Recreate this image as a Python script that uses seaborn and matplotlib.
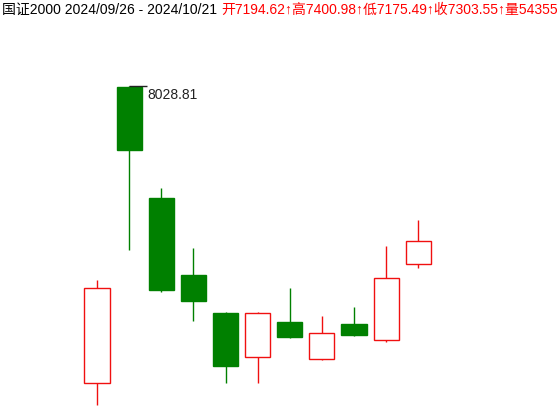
import numpy as np
import pandas as pd
import seaborn as sns
import matplotlib
matplotlib.use("Agg")
import matplotlib.pyplot as plt

# --- DATA ---
dates = ["09/30", "10/08", "10/09", "10/10", "10/11", "10/14",
         "10/15", "10/16", "10/17", "10/18", "10/21"]
opens = [6638.8, 8026.0, 7504.6, 7144.3, 6966.4, 6760.5,
         6924.3, 6751.2, 6914.9, 6840.1, 7194.62]
highs = [7120.9, 8028.81, 7551.4, 7270.6, 6970.0, 6970.0,
         7083.4, 6952.4, 6994.5, 7280.0, 7400.98]
lows = [6535.9, 7261.3, 7064.7, 6929.0, 6638.8, 6638.8,
        6849.4, 6746.5, 6858.8, 6830.7, 7175.49]
closes = [7083.4, 7729.3, 7074.1, 7022.6, 6718.4, 6966.4,
          6854.1, 6872.8, 6863.5, 7130.2, 7303.55]

title_black = "国证2000 2024/09/26 - 2024/10/21"
title_red = "开7194.62↑高7400.98↑低7175.49↑收7303.55↑量54355万"

UP = "#f01010"
DOWN = "#008000"


def main():
    df = pd.DataFrame({"date": dates, "open": opens, "high": highs,
                       "low": lows, "close": closes})
    df["x"] = np.arange(len(df))
    df["up"] = df["close"] >= df["open"]

    sns.set_theme(style="white")
    plt.rcParams["font.family"] = ["Liberation Sans", "Noto Sans CJK SC", "DejaVu Sans"]

    fig = plt.figure(figsize=(5.58, 4.09), dpi=100)
    ax = fig.add_axes([0, 0, 1, 1])
    ax.set_axis_off()

    width = 0.78
    for _, r in df.iterrows():
        col = UP if r["up"] else DOWN
        top = max(r["open"], r["close"])
        bot = min(r["open"], r["close"])
        ax.vlines(r["x"], top, r["high"], color=col, lw=1.0)
        ax.vlines(r["x"], r["low"], bot, color=col, lw=1.0)
        ax.bar(r["x"], top - bot, bottom=bot, width=width,
               facecolor="white" if r["up"] else DOWN,
               edgecolor=col, linewidth=1.0)

    # marker for the period high
    imax = df["high"].idxmax()
    hx, hy = df.loc[imax, "x"], df.loc[imax, "high"]
    ax.hlines(hy, hx, hx + 0.55, color="#222222", lw=1.0)
    ax.text(hx + 0.58, hy - 10, f"{hy:.2f}", fontsize=10, color="#222222",
            ha="left", va="top")

    ax.set_xlim(-3.02, 14.35)
    ax.set_ylim(6517, 8431)

    # header line; the red quote runs past the right edge as in the original
    fig.text(0.004, 0.992, title_black, fontsize=10, color="black",
             ha="left", va="top")
    fig.text(0.396, 0.992, title_red, fontsize=10, color="#ff0000",
             ha="left", va="top")

    fig.savefig("out.png", dpi=100)


if __name__ == "__main__":
    main()
